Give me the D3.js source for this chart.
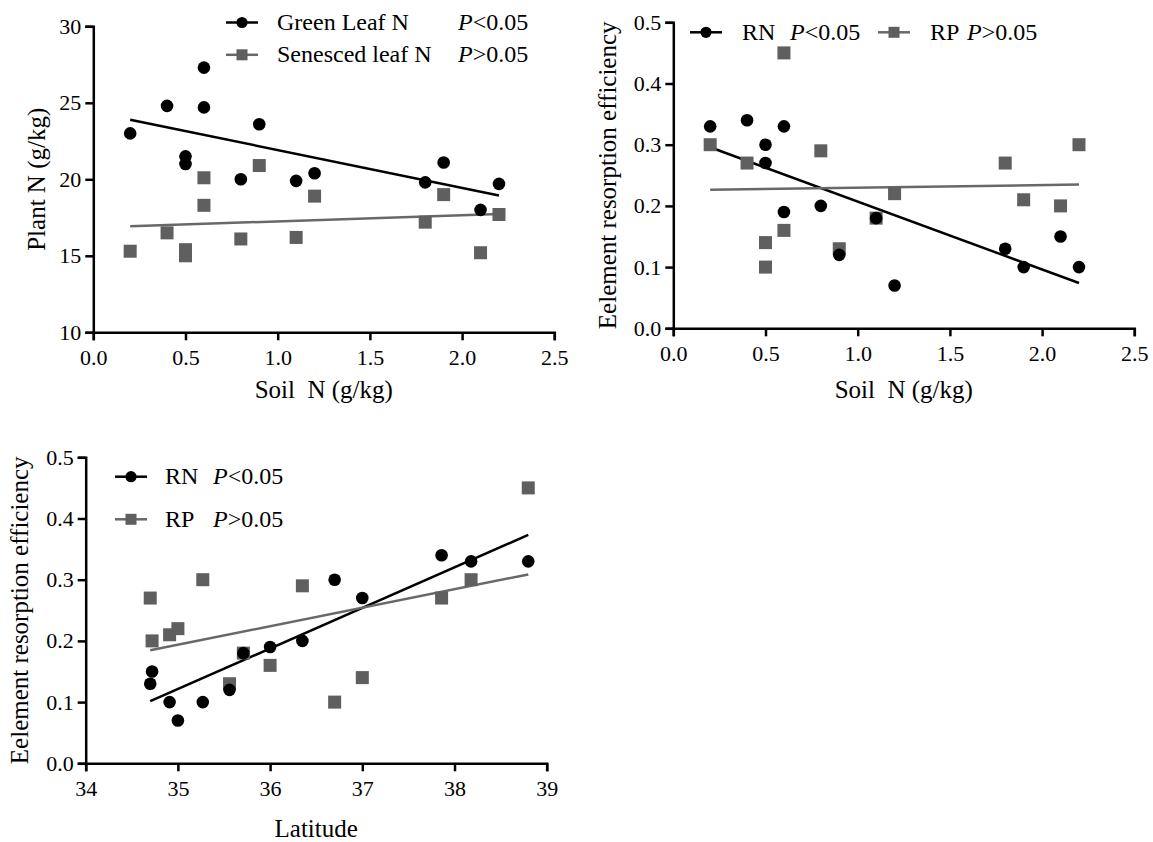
<!DOCTYPE html>
<html>
<head>
<meta charset="utf-8">
<script src="https://cdn.jsdelivr.net/npm/d3@7"></script>
<style>
  body { margin: 0; background: #fff; }
</style>
</head>
<body>
<div id="chart"></div>
<script>
// ============================================================
// Data
// ============================================================
var soilN = [0.2, 0.4, 0.5, 0.5, 0.6, 0.6, 0.8, 0.9, 1.1, 1.2, 1.8, 1.9, 2.1, 2.2];
var greenLeafN = [23.0, 24.8, 21.5, 21.0, 27.3, 24.7, 20.0, 23.6, 19.9, 20.4, 19.8, 21.1, 18.0, 19.7];
var senescedLeafN = [15.3, 16.5, 15.4, 15.0, 20.1, 18.3, 16.1, 20.9, 16.2, 18.9, 17.2, 19.0, 15.2, 17.7];

var rnSoil = [0.33, 0.34, 0.30, 0.27, 0.33, 0.19, 0.20, 0.12, 0.18, 0.07, 0.13, 0.10, 0.15, 0.10];
var rpSoil = [0.30, 0.27, 0.10, 0.14, 0.45, 0.16, 0.29, 0.13, 0.18, 0.22, 0.27, 0.21, 0.20, 0.30];

var latitude = [34.70, 34.72, 34.91, 35.00, 35.27, 35.56, 35.71, 36.00, 36.35, 36.70, 37.00, 37.86, 38.18, 38.80];
var rnLat = [0.13, 0.15, 0.10, 0.07, 0.10, 0.12, 0.18, 0.19, 0.20, 0.30, 0.27, 0.34, 0.33, 0.33];
var rpLat = [0.27, 0.20, 0.21, 0.22, 0.30, 0.13, 0.18, 0.16, 0.29, 0.10, 0.14, 0.27, 0.30, 0.45];

var soilTicks = [0, 0.5, 1.0, 1.5, 2.0, 2.5];
var plantNTicks = [10, 15, 20, 25, 30];
var ereTicks = [0, 0.1, 0.2, 0.3, 0.4, 0.5];
var latTicks = [34, 35, 36, 37, 38, 39];

var BLACK = "#000";
var GREY = "#5f5f5f";
var GREY_LINE = "#686868";
var FONT = "'Liberation Serif', 'Times New Roman', Times, 'DejaVu Serif', serif";

var svg = d3.select("#chart").append("svg")
    .attr("width", 1153)
    .attr("height", 842)
    .style("background", "#fff");

// least squares fit, drawn over the range of x
function fit(xs, ys) {
    var mx = d3.mean(xs), my = d3.mean(ys);
    var sxy = d3.sum(xs, function (x, i) { return (x - mx) * (ys[i] - my); });
    var sxx = d3.sum(xs, function (x) { return (x - mx) * (x - mx); });
    var b = sxy / sxx, a = my - b * mx;
    return d3.extent(xs).map(function (x) { return [x, a + b * x]; });
}

function txt(sel, size) {
    return sel.style("font-family", FONT).style("font-size", size + "px").style("fill", BLACK);
}

function drawPanel(p) {
    var g = svg.append("g").attr("transform", "translate(" + p.left + "," + p.top + ")");
    var x = d3.scaleLinear().domain(d3.extent(p.xTicks)).range([0, 461]);
    var y = d3.scaleLinear().domain(d3.extent(p.yTicks)).range([306, 0]);

    var xAx = g.append("g").attr("transform", "translate(0,306)")
        .call(d3.axisBottom(x).tickValues(p.xTicks).tickFormat(p.xFmt).tickSize(8).tickPadding(9));
    var yAx = g.append("g")
        .call(d3.axisLeft(y).tickValues(p.yTicks).tickFormat(p.yFmt).tickSize(8).tickPadding(4));
    [xAx, yAx].forEach(function (a) {
        a.attr("font-family", null).attr("font-size", null);
        a.selectAll("path, line").attr("stroke", BLACK).attr("stroke-width", 2.5);
        txt(a.selectAll("text"), 22);
    });

    // axis titles
    txt(g.append("text"), 25)
        .attr("x", 230.5).attr("y", p.xTitleY)
        .attr("text-anchor", "middle")
        .text(p.xTitle);
    txt(g.append("text"), 25)
        .attr("transform", "translate(" + p.yTitleX + ",153) rotate(-90)")
        .attr("text-anchor", "middle")
        .text(p.yTitle);

    var line = d3.line().x(function (d) { return x(d[0]); }).y(function (d) { return y(d[1]); });

    p.series.forEach(function (s) {
        g.append("path")
            .attr("d", line(fit(s.xs, s.ys)))
            .attr("fill", "none")
            .attr("stroke", s.lineColor)
            .attr("stroke-width", 2.5);
    });

    // squares first, circles on top
    p.series.slice().reverse().forEach(function (s) {
        var pts = s.xs.map(function (v, i) { return [v, s.ys[i]]; });
        if (s.shape === "circle") {
            g.selectAll(null).data(pts).enter().append("circle")
                .attr("cx", function (d) { return x(d[0]); })
                .attr("cy", function (d) { return y(d[1]); })
                .attr("r", 6.3)
                .attr("fill", s.color);
        } else {
            g.selectAll(null).data(pts).enter().append("rect")
                .attr("x", function (d) { return x(d[0]) - 6.5; })
                .attr("y", function (d) { return y(d[1]) - 6.5; })
                .attr("width", 13).attr("height", 13)
                .attr("fill", s.color);
        }
    });

    // legend
    p.legend.forEach(function (l, i) {
        var s = p.series[i];
        var lg = svg.append("g").attr("transform", "translate(" + l.x + "," + l.y + ")");
        lg.append("line").attr("x1", 0).attr("x2", 32)
            .attr("stroke", s.lineColor).attr("stroke-width", 2.5);
        if (s.shape === "circle") {
            lg.append("circle").attr("cx", 16).attr("r", 5.6).attr("fill", s.color);
        } else {
            lg.append("rect").attr("x", 10.5).attr("y", -5.5).attr("width", 11).attr("height", 11).attr("fill", s.color);
        }
        txt(lg.append("text"), 24).attr("x", l.labelDx).attr("y", 7.5).text(s.name);
        var pt = txt(lg.append("text"), 24).attr("x", l.pDx).attr("y", 7.5);
        pt.append("tspan").style("font-style", "italic").text("P");
        pt.append("tspan").text(s.p);
    });
}

var f1 = d3.format(".1f"), fd = d3.format("d");

drawPanel({
    left: 93.3, top: 26.3,
    xTicks: soilTicks, yTicks: plantNTicks, xFmt: f1, yFmt: fd,
    xTitle: "Soil\u00a0 N (g/kg)", xTitleY: 372, yTitle: "Plant N (g/kg)", yTitleX: -48,
    series: [
        { name: "Green Leaf N", p: "<0.05", xs: soilN, ys: greenLeafN, shape: "circle", color: BLACK, lineColor: BLACK },
        { name: "Senesced leaf N", p: ">0.05", xs: soilN, ys: senescedLeafN, shape: "square", color: GREY, lineColor: GREY_LINE }
    ],
    legend: [
        { x: 226, y: 22.5, labelDx: 51, pDx: 232 },
        { x: 226, y: 54.8, labelDx: 51, pDx: 232 }
    ]
});

drawPanel({
    left: 673.3, top: 22.3,
    xTicks: soilTicks, yTicks: ereTicks, xFmt: f1, yFmt: f1,
    xTitle: "Soil\u00a0 N (g/kg)", xTitleY: 376, yTitle: "Eelement resorption efficiency", yTitleX: -57,
    series: [
        { name: "RN", p: "<0.05", xs: soilN, ys: rnSoil, shape: "circle", color: BLACK, lineColor: BLACK },
        { name: "RP", p: ">0.05", xs: soilN, ys: rpSoil, shape: "square", color: GREY, lineColor: GREY_LINE }
    ],
    legend: [
        { x: 690, y: 32.3, labelDx: 52, pDx: 100 },
        { x: 878, y: 32.3, labelDx: 52, pDx: 89 }
    ]
});

drawPanel({
    left: 85.7, top: 457.3,
    xTicks: latTicks, yTicks: ereTicks, xFmt: fd, yFmt: f1,
    xTitle: "Latitude", xTitleY: 380, yTitle: "Eelement resorption efficiency", yTitleX: -58,
    series: [
        { name: "RN", p: "<0.05", xs: latitude, ys: rnLat, shape: "circle", color: BLACK, lineColor: BLACK },
        { name: "RP", p: ">0.05", xs: latitude, ys: rpLat, shape: "square", color: GREY, lineColor: GREY_LINE }
    ],
    legend: [
        { x: 115, y: 476.7, labelDx: 50, pDx: 98 },
        { x: 115, y: 519.3, labelDx: 50, pDx: 98 }
    ]
});
</script>
</body>
</html>
